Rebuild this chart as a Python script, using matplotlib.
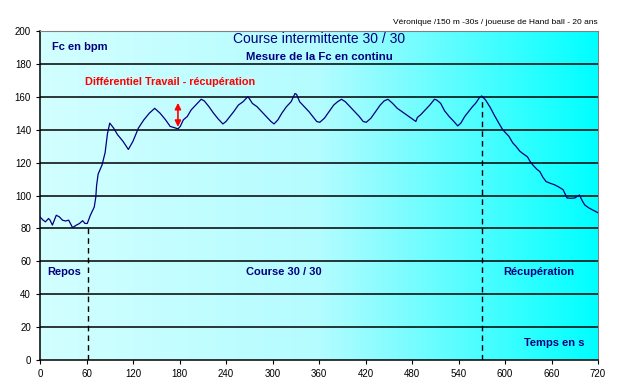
import numpy as np
import matplotlib
matplotlib.use("Agg")
import matplotlib.pyplot as plt
from matplotlib.colors import LinearSegmentedColormap

# heart rate trace (s, bpm)
temps = [0, 4, 7, 11, 13, 16, 21, 25, 29, 33, 37, 42, 47, 51, 55, 58, 61, 65, 70, 72,
         73, 75, 80, 84, 87, 90, 95, 100, 107, 114, 120, 127, 134, 141, 148, 155, 162,
         168, 175, 178, 181, 185, 190, 195, 201, 208, 212, 218, 224, 230, 236, 240, 245,
         250, 256, 262, 268, 270, 274, 280, 286, 292, 298, 302, 307, 312, 318, 324, 329,
         331, 335, 341, 347, 352, 357, 361, 367, 373, 379, 384, 389, 394, 400, 406, 412,
         417, 421, 427, 433, 439, 444, 449, 455, 461, 467, 473, 479, 485, 487, 491, 497,
         503, 509, 512, 517, 522, 528, 534, 539, 543, 548, 553, 558, 562, 567, 570, 575,
         581, 586, 592, 597, 605, 610, 614, 619, 623, 629, 632, 636, 641, 645, 649, 653,
         658, 664, 670, 675, 680, 685, 690, 696, 700, 703, 708, 714, 720]
fc = [87, 85, 84, 86, 85, 82, 88, 87, 85, 84.5, 85, 80.5, 82, 83, 84.7, 83, 83, 88, 93, 99,
      106, 113, 118.5, 126, 137.5, 144, 141, 137, 133, 128, 133, 141, 146, 150, 153, 150, 146,
      142, 141, 140.5, 142, 146, 148, 152, 155, 158.5, 157.5, 154, 150, 146.5, 143.5, 145, 148,
      151, 155, 157, 160, 159, 156, 154, 151, 148, 145, 143.5, 146, 150, 154, 157, 162,
      161.5, 157, 154, 151, 148, 145, 144.5, 147, 151, 155, 157, 158.5, 157, 154, 151, 148,
      145, 144.5, 147, 151, 155, 157.5, 158.5, 156, 153, 151, 149, 147, 145, 147.5, 149, 152,
      155, 158.5, 158, 156, 151.5, 148, 145, 142.3, 144, 148, 151, 154, 156, 159.5, 160.5, 158,
      153.5, 149, 144, 140, 136, 132, 130, 127, 125.5, 123.5, 121, 118.5, 116, 114.5, 111, 108.5,
      107.5, 106.5, 105, 103.5, 98.5, 98.3, 98.5, 100.3, 96.5, 94.2, 92.5, 91, 89.5]

xticks = list(range(0, 721, 60))
yticks = list(range(0, 201, 20))
phases = ["Repos", "Course 30 / 30", "Récupération"]
limites = [62, 570]

navy = "#000080"
fig = plt.figure(figsize=(6.2, 3.9), dpi=100)
ax = fig.add_axes([40 / 620, 30 / 390, 558 / 620, 329 / 390])

# horizontal gradient background
cmap = LinearSegmentedColormap.from_list("fond", ["#d2ffff", "#b4fcff", "#00ffff"])
grad = np.linspace(0, 1, 256).reshape(1, -1)
ax.imshow(grad, cmap=cmap, aspect="auto", extent=[0, 720, 0, 200], zorder=0)

for y in yticks[1:-1]:
    ax.axhline(y, color="black", lw=1.1, zorder=1)

ax.plot(temps, fc, color=navy, lw=0.9, zorder=3)

ax.plot([limites[0], limites[0]], [0, 80], color="black", ls=(0, (4, 3)), lw=1, zorder=2)
ax.plot([limites[1], limites[1]], [0, 160], color="black", ls=(0, (4, 3)), lw=1, zorder=2)

ax.annotate("", xy=(178, 140), xytext=(178, 158),
            arrowprops=dict(arrowstyle="<|-|>", color="red", lw=1.2,
                            mutation_scale=9), zorder=4)

ax.set_xlim(0, 720)
ax.set_ylim(0, 200)
ax.set_xticks(xticks)
ax.set_yticks(yticks)
ax.tick_params(labelsize=7, length=3, width=0.8, colors="black")
for lab in ax.get_xticklabels() + ax.get_yticklabels():
    lab.set_family("Liberation Sans")
ax.spines["top"].set_color("#808080")
ax.spines["right"].set_color("#808080")
ax.spines["top"].set_linewidth(0.8)
ax.spines["right"].set_linewidth(0.8)
ax.spines["left"].set_linewidth(1.1)
ax.spines["bottom"].set_linewidth(1.1)

f = "Liberation Sans"
ax.text(360, 195, "Course intermittente 30 / 30", color=navy, fontsize=10,
        family=f, ha="center", va="center", zorder=5)
ax.text(360, 184, "Mesure de la Fc en continu", color=navy, fontsize=8.2,
        family=f, weight="bold", ha="center", va="center", zorder=5)
ax.text(16, 190, "Fc en bpm", color=navy, fontsize=8, family=f, weight="bold",
        va="center", zorder=5)
ax.text(58, 169, "Différentiel Travail - récupération", color="red", fontsize=7.8,
        family=f, weight="bold", va="center", zorder=5)
ax.text(9, 53.5, phases[0], color=navy, fontsize=8, family=f, weight="bold",
        va="center", zorder=5)
ax.text(314, 53.5, phases[1], color=navy, fontsize=8, family=f, weight="bold",
        ha="center", va="center", zorder=5)
ax.text(644, 53.5, phases[2], color=navy, fontsize=8, family=f, weight="bold",
        ha="center", va="center", zorder=5)
ax.text(663, 10.3, "Temps en s", color=navy, fontsize=8, family=f, weight="bold",
        ha="center", va="center", zorder=5)
ax.text(720, 203, "Véronique /150 m -30s / joueuse de Hand ball - 20 ans", fontsize=6,
        family=f, ha="right", va="bottom", zorder=5)

fig.savefig("out.png", dpi=100)
